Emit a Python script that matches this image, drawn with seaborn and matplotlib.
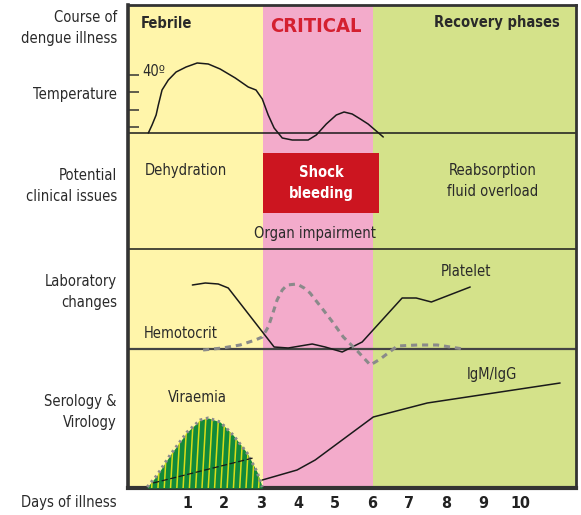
import numpy as np
import pandas as pd
import matplotlib
matplotlib.use("Agg")
import matplotlib.pyplot as plt
from matplotlib.patches import Rectangle
import seaborn as sns

# ---------------- data (x = day of illness, y = schematic level) ----------------
phase_names = ["Febrile", "CRITICAL", "Recovery phases"]
phase_edges = [-0.6, 3.05, 6.03, 11.51]
phase_colors = ["#fff5aa", "#f3abcb", "#d4e28a"]

day_ticks = [1, 2, 3, 4, 5, 6, 7, 8, 9, 10]
day_labels = ["1", "2", "3", "4", "5", "6", "7", "8", "9", "10"]

panel_dividers = [355, 239, 139]
temp_ticks = [413, 396, 378, 361]

temp_day = [-0.05, 0.05, 0.16, 0.22, 0.32, 0.49, 0.70, 0.97, 1.27, 1.57, 1.89,
            2.30, 2.65, 2.86, 3.03, 3.19, 3.35, 3.57, 3.84, 4.27, 4.49, 4.76,
            5.03, 5.24, 5.46, 5.68, 5.89, 6.30]
temp_val = [355, 363, 373, 383, 398, 408, 416, 421, 425, 424, 419,
            410, 401, 398, 389, 373, 360, 350, 348, 348, 353, 364,
            373, 376, 374, 369, 364, 351]

platelet_day = [1.14, 1.49, 1.84, 2.11, 3.35, 3.73, 4.38, 4.73, 5.19, 5.73,
                6.81, 7.19, 7.60, 8.65]
platelet_val = [203, 205, 204, 200, 141, 140, 144, 141, 136, 146,
                190, 190, 186, 201]

hct_day = [1.43, 1.95, 2.43, 2.84, 3.03, 3.19, 3.30, 3.43, 3.57, 3.70, 3.97,
           4.16, 4.32, 4.68, 4.95, 5.22, 5.60, 5.95, 6.22, 6.68, 7.22, 7.76, 8.46]
hct_val = [138, 140, 143, 148, 151, 161, 173, 188, 198, 203, 204,
           200, 195, 178, 165, 151, 137, 123, 129, 142, 143, 143, 139]

viraemia_day = [-0.08, 0.19, 0.54, 1.00, 1.35, 1.57, 1.89, 2.24, 2.62, 2.89, 3.03]
viraemia_val = [1, 13, 33, 56, 68, 70, 66, 53, 35, 16, 1]

inner_day = [0.08, 2.78]
inner_val = [5, 30]

igm_day = [3.03, 3.97, 4.46, 6.03, 7.49, 11.08]
igm_val = [8, 18, 28, 71, 85, 105]

shock_box = (3.05, 6.19, 275, 335)

# ---------------- figure ----------------
sns.set_theme(style="white")
plt.rcParams["font.family"] = ["DejaVu Sans"]
plt.rcParams["font.stretch"] = "condensed"

W, H = 581, 515
fig = plt.figure(figsize=(W / 100, H / 100), dpi=100)
fig.patch.set_facecolor("white")
ax = fig.add_axes([128 / W, 1 - 488 / H, (576 - 128) / W, (488 - 5) / H])
ax.set_xlim(phase_edges[0], phase_edges[-1])
ax.set_ylim(0, 483)

def fx(px):
    return px / W

def fy(py):
    return 1 - py / H

# phase backgrounds
for i in range(3):
    ax.axvspan(phase_edges[i], phase_edges[i + 1], color=phase_colors[i], lw=0, zorder=0)

# panel dividers
ax.axhline(panel_dividers[0], color="#1a1a1a", lw=1.1, zorder=2)
ax.axhline(panel_dividers[1], color="#1a1a1a", lw=1.1, zorder=2)
ax.axhline(panel_dividers[2], color="#444444", lw=1.6, zorder=2)

# red shock box
x0, x1, y0, y1 = shock_box
ax.add_patch(Rectangle((x0, y0), x1 - x0, y1 - y0, facecolor="#cc1520",
                       edgecolor="none", zorder=3))

# temperature curve
temp_df = pd.DataFrame({"day": temp_day, "val": temp_val})
sns.lineplot(data=temp_df, x="day", y="val", sort=False, color="#1a1a1a",
             lw=1.1, ax=ax, zorder=4)

# platelet
plt_df = pd.DataFrame({"day": platelet_day, "val": platelet_val})
sns.lineplot(data=plt_df, x="day", y="val", sort=False, color="#1a1a1a",
             lw=1.1, ax=ax, zorder=4)

# hemotocrit (dashed)
hct_df = pd.DataFrame({"day": hct_day, "val": hct_val})
sns.lineplot(data=hct_df, x="day", y="val", sort=False, color="#8a8a8a",
             lw=2.2, ax=ax, zorder=4, linestyle=(0, (2.0, 1.6)))

# viraemia hump with stripes
vir = ax.fill_between(viraemia_day, 0, viraemia_val, color="#128a3a", lw=0, zorder=3)
clip = vir.get_paths()[0]
for xs in np.arange(-0.3, 3.3, 0.17):
    ln, = ax.plot([xs, xs + 0.12], [0, 80], color="#d8dc1a", lw=1.1, zorder=3.5)
    ln.set_clip_path(clip, ax.transData)
sns.lineplot(x=viraemia_day, y=viraemia_val, sort=False, color="#8a8a8a",
             lw=2.2, ax=ax, zorder=4, linestyle=(0, (0.8, 1.2)))
ax.plot(inner_day, inner_val, color="#1a1a1a", lw=0.9, ls=(0, (5, 2)), zorder=4)

# IgM/IgG
igm_df = pd.DataFrame({"day": igm_day, "val": igm_val})
sns.lineplot(data=igm_df, x="day", y="val", sort=False, color="#1a1a1a",
             lw=1.1, ax=ax, zorder=4)

# axes styling
ax.set_xlabel("")
ax.set_ylabel("")
ax.set_xticks(day_ticks)
ax.set_xticklabels(day_labels, fontsize=11.5, fontweight="bold", color="#222222")
ax.tick_params(axis="x", length=0, pad=6)
ax.set_yticks(temp_ticks)
ax.set_yticklabels([])
ax.tick_params(axis="y", direction="in", length=8, width=1.1, color="#333333", left=True)
for side, lw in [("left", 2.6), ("bottom", 3.0), ("top", 2.0), ("right", 2.0)]:
    ax.spines[side].set_visible(True)
    ax.spines[side].set_linewidth(lw)
    ax.spines[side].set_color("#333333")
ax.grid(False)

# texts
fs = 10.5
ls = 1.5
lab = dict(fontsize=fs, color="#2a2a2a", ha="right", va="center", linespacing=ls)
fig.text(fx(117), fy(28), "Course of\ndengue illness", **lab)
fig.text(fx(117), fy(95), "Temperature", **lab)
fig.text(fx(117), fy(186), "Potential\nclinical issues", **lab)
fig.text(fx(117), fy(292), "Laboratory\nchanges", **lab)
fig.text(fx(117), fy(412), "Serology &\nVirology", **lab)
fig.text(fx(117), fy(503), "Days of illness", **lab)

fig.text(fx(141), fy(23), phase_names[0], fontsize=fs, fontweight="bold",
         color="#2a2a2a", ha="left", va="center")
fig.text(fx(316), fy(27), phase_names[1], fontsize=14.5, fontweight="bold",
         color="#d42030", ha="center", va="center")
fig.text(fx(497), fy(23), phase_names[2], fontsize=fs, fontweight="bold",
         color="#2a2a2a", ha="center", va="center")

inner = dict(fontsize=fs, color="#2a2a2a", va="center", linespacing=ls)
fig.text(fx(142), fy(72), "40º", ha="left", **inner)
fig.text(fx(186), fy(170), "Dehydration", ha="center", **inner)
fig.text(fx(321), fy(183), "Shock\nbleeding", ha="center", fontsize=fs,
         fontweight="bold", color="white", va="center", linespacing=ls)
fig.text(fx(493), fy(181), "Reabsorption\nfluid overload", ha="center", **inner)
fig.text(fx(315), fy(233), "Organ impairment", ha="center", **inner)
fig.text(fx(466), fy(271), "Platelet", ha="center", **inner)
fig.text(fx(144), fy(333), "Hemotocrit", ha="left", **inner)
fig.text(fx(197), fy(397), "Viraemia", ha="center", **inner)
fig.text(fx(492), fy(375), "IgM/IgG", ha="center", **inner)

fig.savefig("out.png", dpi=100)
